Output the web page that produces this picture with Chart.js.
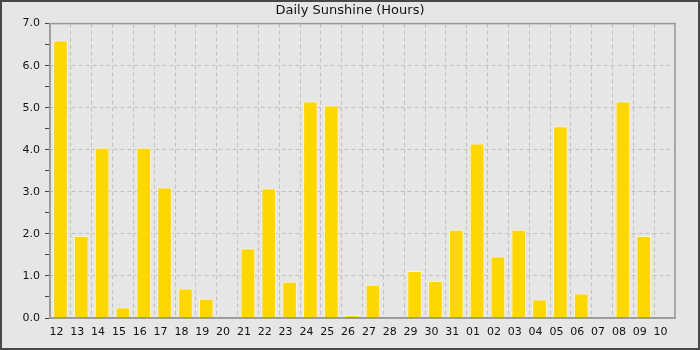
<!DOCTYPE html>
<html>
<head>
<meta charset="utf-8">
<script src="https://cdn.jsdelivr.net/npm/chart.js@4"></script>
<style>
  html, body { margin: 0; padding: 0; background: #e6e6e6; }
  #wrap { width: 700px; height: 350px; }
</style>
</head>
<body>
<div id="wrap"><canvas id="sunChart" width="700" height="350"></canvas></div>
<script>
// days shown along the bottom
var days = ["12", "13", "14", "15", "16", "17", "18", "19", "20", "21",
            "22", "23", "24", "25", "26", "27", "28", "29", "30", "31",
            "01", "02", "03", "04", "05", "06", "07", "08", "09", "10"];

// hours of sunshine for each day
var sunshine = [6.6, 1.95, 4.05, 0.25, 4.05, 3.1, 0.7, 0.46, 0, 1.65,
                3.08, 0.86, 5.15, 5.05, 0.07, 0.79, 0, 1.12, 0.88, 2.1,
                4.15, 1.46, 2.1, 0.44, 4.56, 0.58, 0, 5.15, 1.95, 0];

var yMin = 0;
var yMax = 7;

// background, outer frame and plot frame
var framePlugin = {
	id: "frame",
	beforeDraw: function(chart) {
		var c = chart.ctx;
		c.save();
		c.fillStyle = "#e6e6e6";
		c.fillRect(0, 0, chart.width, chart.height);
		c.restore();
	},
	afterDraw: function(chart) {
		var c = chart.ctx;
		var a = chart.chartArea;
		c.save();
		c.strokeStyle = "#999999";
		c.lineWidth = 1.5;
		c.strokeRect(a.left, a.top, a.right - a.left, a.bottom - a.top);
		c.strokeStyle = "#484848";
		c.lineWidth = 4;
		c.strokeRect(0, 0, chart.width, chart.height);
		c.restore();
	}
};

var ctx = document.getElementById("sunChart");

var chart = new Chart(ctx, {
	type: "bar",
	data: {
		labels: days,
		datasets: [{
			label: "Sunshine",
			data: sunshine,
			backgroundColor: "#ffd700",
			borderColor: "#fff6c8",
			borderWidth: 1,
			barPercentage: 0.7,
			categoryPercentage: 1.0
		}]
	},
	options: {
		responsive: false,
		animation: false,
		layout: {
			padding: { left: 0, right: 0, top: 0, bottom: 2 }
		},
		plugins: {
			legend: { display: false },
			tooltip: { enabled: false },
			title: {
				display: true,
				text: "Daily Sunshine (Hours)",
				color: "#111",
				font: { family: "DejaVu Sans", size: 13, weight: "normal" },
				padding: { top: 3, bottom: 5 }
			}
		},
		scales: {
			x: {
				offset: true,
				grid: {
					offset: true,
					color: "#c0c0c0",
					drawTicks: false
				},
				border: { display: true, color: "#999999", width: 1.5, dash: [4, 3] },
				ticks: {
					color: "#111",
					font: { family: "DejaVu Sans", size: 11 },
					padding: 8,
					labelOffset: -4,
					autoSkip: false,
					maxRotation: 0
				},
				afterFit: function(scale) { scale.height = 30; }
			},
			y: {
				min: yMin,
				max: yMax,
				grid: {
					color: function(c) {
						return c.tick && c.tick.value % 1 === 0 ? "#c0c0c0" : "rgba(0,0,0,0)";
					},
					tickColor: "#444444",
					tickLength: 5
				},
				border: { display: true, color: "#999999", width: 1.5, dash: [4, 3] },
				ticks: {
					stepSize: 0.5,
					autoSkip: false,
					padding: 5,
					color: "#111",
					font: { family: "DejaVu Sans", size: 11 },
					callback: function(v) {
						return v % 1 === 0 ? v.toFixed(1) : "";
					}
				},
				afterFit: function(scale) { scale.width = 50; }
			},
			// empty right axis, only keeps the right margin
			yRight: {
				position: "right",
				min: yMin,
				max: yMax,
				grid: { drawOnChartArea: false, drawTicks: false },
				border: { display: false },
				ticks: { display: false },
				afterFit: function(scale) { scale.width = 25; }
			}
		}
	},
	plugins: [framePlugin]
});
</script>
</body>
</html>
